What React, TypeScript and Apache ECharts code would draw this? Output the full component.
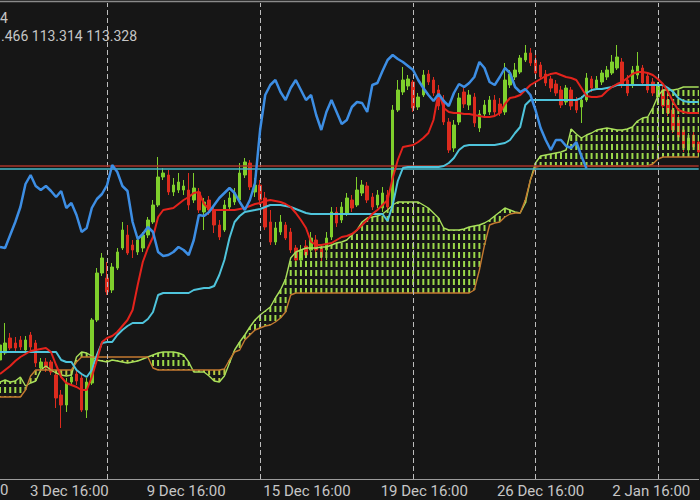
import React, { useEffect, useRef } from 'react';
import * as echarts from 'echarts';

// [open, close, low, high]
const candles: number[][] = [
  [111.40, 111.55, 111.37, 111.60], [111.47, 111.57, 111.45, 111.77], [111.62, 111.52, 111.50, 111.67], [111.57, 111.52, 111.47, 111.63],
  [111.60, 111.53, 111.50, 111.64], [111.50, 111.60, 111.48, 111.64], [111.65, 111.53, 111.50, 111.68], [111.57, 111.37, 111.33, 111.60],
  [111.32, 111.38, 111.28, 111.42], [111.38, 111.32, 111.28, 111.42], [111.38, 111.28, 111.25, 111.40], [111.25, 111.02, 110.92, 111.28],
  [111.05, 110.95, 110.72, 111.10], [110.95, 111.17, 110.88, 111.22], [111.18, 111.23, 111.15, 111.28], [111.26, 111.19, 111.15, 111.30],
  [111.22, 110.90, 110.88, 111.25], [110.90, 111.18, 110.82, 111.22], [111.17, 111.80, 111.15, 111.82], [111.80, 112.27, 111.78, 112.32],
  [112.27, 112.42, 112.24, 112.47], [112.22, 112.08, 112.05, 112.38], [112.10, 112.33, 112.07, 112.37], [112.32, 112.48, 112.30, 112.52],
  [112.52, 112.70, 112.50, 112.78], [112.65, 112.47, 112.45, 112.75], [112.55, 112.50, 112.42, 112.60], [112.48, 112.60, 112.45, 112.64],
  [112.52, 112.65, 112.48, 112.68], [112.65, 112.80, 112.62, 112.83], [112.78, 112.95, 112.76, 113.00], [112.95, 113.23, 112.93, 113.43],
  [113.23, 113.27, 113.20, 113.32], [113.25, 113.08, 113.05, 113.30], [113.08, 113.15, 113.04, 113.22], [113.10, 113.18, 113.07, 113.27],
  [113.10, 113.14, 113.05, 113.20], [113.10, 112.95, 112.90, 113.27], [113.00, 113.12, 112.97, 113.27], [113.08, 112.90, 112.87, 113.12],
  [112.88, 112.98, 112.70, 113.02], [113.00, 112.90, 112.85, 113.04], [112.90, 112.75, 112.67, 112.94], [112.75, 112.63, 112.60, 112.80],
  [112.70, 112.95, 112.68, 113.00], [112.93, 113.02, 112.90, 113.08], [112.98, 113.07, 112.95, 113.12], [113.00, 113.27, 112.98, 113.37],
  [113.25, 113.38, 113.22, 113.42], [113.37, 113.13, 113.10, 113.40], [113.08, 113.15, 113.03, 113.22], [113.15, 113.00, 112.95, 113.20],
  [113.02, 112.73, 112.70, 113.08], [112.78, 112.58, 112.55, 112.90], [112.58, 112.72, 112.55, 112.78], [112.68, 112.78, 112.65, 112.85],
  [112.75, 112.62, 112.60, 112.78], [112.68, 112.50, 112.47, 112.72], [112.52, 112.40, 112.35, 112.55], [112.40, 112.50, 112.37, 112.55],
  [112.54, 112.45, 112.42, 112.60], [112.50, 112.62, 112.48, 112.68], [112.60, 112.50, 112.42, 112.65], [112.52, 112.43, 112.38, 112.56],
  [112.50, 112.62, 112.40, 112.68], [112.63, 112.88, 112.60, 112.93], [112.88, 112.77, 112.73, 112.93], [112.80, 112.93, 112.77, 112.98],
  [112.87, 113.02, 112.84, 113.07], [113.00, 112.92, 112.88, 113.05], [112.95, 113.10, 112.93, 113.23], [113.07, 113.15, 113.04, 113.20],
  [113.14, 113.00, 112.97, 113.18], [113.03, 112.93, 112.90, 113.07], [112.95, 113.05, 112.92, 113.10], [112.92, 113.07, 112.88, 113.13],
  [113.05, 112.93, 112.90, 113.10], [112.93, 113.90, 112.90, 113.95], [113.90, 114.10, 113.88, 114.20], [114.08, 114.20, 114.05, 114.33],
  [114.14, 114.21, 114.10, 114.25], [114.18, 113.92, 113.88, 114.20], [113.93, 114.03, 113.90, 114.07], [114.05, 114.25, 114.03, 114.30],
  [114.26, 114.18, 114.15, 114.30], [114.20, 114.07, 114.04, 114.23], [114.10, 113.94, 113.90, 114.15], [114.00, 113.78, 113.75, 114.05],
  [113.78, 113.50, 113.47, 113.82], [113.52, 113.75, 113.48, 113.80], [113.78, 114.02, 113.75, 114.07], [114.08, 113.96, 113.92, 114.12],
  [113.95, 114.05, 113.90, 114.10], [114.03, 113.77, 113.73, 114.07], [113.72, 113.86, 113.68, 113.90], [113.86, 113.95, 113.82, 114.00],
  [113.88, 114.00, 113.85, 114.04], [114.00, 113.88, 113.84, 114.05], [113.96, 113.87, 113.84, 114.02], [113.88, 114.20, 113.85, 114.37],
  [114.15, 114.26, 114.12, 114.30], [114.23, 114.30, 114.20, 114.37], [114.28, 114.42, 114.26, 114.45], [114.40, 114.47, 114.38, 114.55],
  [114.47, 114.37, 114.34, 114.52], [114.40, 114.27, 114.24, 114.45], [114.35, 114.23, 114.20, 114.38], [114.26, 114.17, 114.14, 114.30],
  [114.21, 114.12, 114.08, 114.24], [114.16, 114.07, 114.04, 114.20], [114.10, 113.95, 113.92, 114.14], [113.98, 114.12, 113.95, 114.15],
  [114.10, 113.94, 113.90, 114.13], [114.00, 113.90, 113.87, 114.03], [113.93, 114.00, 113.77, 114.04], [114.00, 114.22, 113.98, 114.27],
  [114.21, 114.12, 114.08, 114.24], [114.12, 114.20, 114.10, 114.24], [114.18, 114.27, 114.15, 114.30], [114.23, 114.30, 114.20, 114.34],
  [114.27, 114.38, 114.25, 114.45], [114.32, 114.43, 114.30, 114.55], [114.38, 114.15, 114.12, 114.42], [114.20, 114.07, 114.04, 114.25],
  [114.15, 114.30, 114.12, 114.34], [114.25, 114.34, 114.21, 114.48], [114.32, 114.17, 114.14, 114.35], [114.24, 114.10, 114.07, 114.28],
  [114.18, 114.07, 114.04, 114.22], [114.03, 114.14, 114.00, 114.18], [114.10, 113.94, 113.90, 114.14], [114.00, 113.87, 113.84, 114.07],
  [113.90, 113.70, 113.67, 113.95], [113.80, 113.63, 113.60, 113.85], [113.70, 113.52, 113.48, 113.74], [113.50, 113.62, 113.47, 113.67],
  [113.65, 113.53, 113.50, 113.70], [113.58, 113.48, 113.45, 113.62],
];

const tenkan = [
  111.26, 111.30, 111.34, 111.39, 111.43, 111.46, 111.49, 111.50, 111.51, 111.52,
  111.48, 111.35, 111.23, 111.17, 111.15, 111.13, 111.10, 111.10, 111.23, 111.40,
  111.58, 111.62, 111.64, 111.68, 111.74, 111.80, 111.90, 112.15, 112.38, 112.52,
  112.63, 112.83, 112.90, 112.91, 112.92, 112.96, 113.00, 113.03, 113.07, 113.08,
  112.96, 112.91, 112.90, 112.90, 112.90, 112.90, 112.90, 112.91, 112.92, 112.94,
  112.96, 112.97, 112.99, 113.00, 112.99, 112.98, 112.96, 112.93, 112.87, 112.80,
  112.72, 112.58, 112.55, 112.55, 112.56, 112.57, 112.60, 112.63, 112.64, 112.66,
  112.70, 112.75, 112.80, 112.86, 112.90, 112.95, 113.00, 113.22, 113.40, 113.53,
  113.54, 113.55, 113.58, 113.62, 113.67, 113.80, 114.08, 113.92, 113.88, 113.87,
  113.87, 113.86, 113.86, 113.85, 113.84, 113.83, 113.83, 113.84, 113.87, 113.96,
  114.02, 114.03, 114.05, 114.10, 114.15, 114.18, 114.21, 114.24, 114.26, 114.27,
  114.25, 114.23, 114.22, 114.20, 114.12, 114.04, 114.03, 114.03, 114.04, 114.09,
  114.13, 114.16, 114.18, 114.22, 114.26, 114.28, 114.28, 114.27, 114.25, 114.21,
  114.16, 114.08, 113.98, 113.90, 113.88, 113.87, 113.87, 113.87,
];

const kijun = [
  111.48, 111.48, 111.48, 111.48, 111.48, 111.48, 111.48, 111.48, 111.48, 111.48,
  111.48, 111.48, 111.40, 111.38, 111.38, 111.30, 111.26, 111.23, 111.30, 111.45,
  111.57, 111.58, 111.58, 111.65, 111.70, 111.74, 111.77, 111.77, 111.77, 111.81,
  111.88, 112.05, 112.07, 112.07, 112.07, 112.07, 112.07, 112.07, 112.10, 112.11,
  112.12, 112.12, 112.14, 112.25, 112.40, 112.62, 112.78, 112.84, 112.88, 112.89,
  112.90, 112.91, 112.93, 112.95, 112.95, 112.95, 112.94, 112.93, 112.91, 112.89,
  112.87, 112.86, 112.86, 112.86, 112.86, 112.86, 112.86, 112.86, 112.86, 112.86,
  112.86, 112.86, 112.86, 112.86, 112.86, 112.86, 112.79, 112.95, 113.19, 113.32,
  113.33, 113.33, 113.33, 113.33, 113.33, 113.33, 113.33, 113.34, 113.37, 113.42,
  113.50, 113.54, 113.55, 113.55, 113.55, 113.55, 113.55, 113.55, 113.56, 113.57,
  113.60, 113.67, 113.73, 113.95, 114.00, 114.00, 114.00, 114.00, 114.00, 114.00,
  114.00, 114.00, 114.00, 114.00, 114.02, 114.07, 114.10, 114.11, 114.11, 114.12,
  114.13, 114.15, 114.15, 114.15, 114.15, 114.15, 114.15, 114.15, 114.15, 114.15,
  114.15, 114.12, 114.08, 114.02, 113.99, 113.98, 113.98, 113.98,
];

const chikou = [
  112.53, 112.52, 112.65, 112.78, 112.93, 113.16, 113.25, 113.14, 113.10, 113.14,
  113.09, 113.03, 113.09, 112.92, 112.97, 112.85, 112.68, 112.72, 112.92, 113.01,
  113.06, 113.15, 113.35, 113.28, 113.14, 113.09, 112.78, 112.61, 112.66, 112.73,
  112.68, 112.48, 112.44, 112.45, 112.48, 112.53, 112.50, 112.45, 112.60, 112.85,
  112.84, 112.88, 112.95, 113.02, 113.07, 113.12, 113.07, 112.98, 112.90, 113.00,
  113.17, 113.70, 114.05, 114.15, 114.20, 114.08, 114.00, 114.12, 114.20, 114.10,
  114.00, 114.05, 113.85, 113.70, 113.88, 114.00, 113.88, 113.76, 113.80, 113.93,
  113.98, 113.97, 113.88, 114.15, 114.17, 114.29, 114.40, 114.45, 114.41, 114.38,
  114.34, 114.30, 114.20, 114.12, 114.05, 113.99, 114.06, 113.99, 113.94, 114.07,
  114.16, 114.13, 114.17, 114.23, 114.38, 114.32, 114.18, 114.15, 114.23, 114.32,
  114.27, 114.13, 114.08, 114.11, 114.05, 113.90, 113.72, 113.60, 113.50, 113.60,
  113.60, 113.54, 113.52, 113.58, 113.44, 113.314,
];

const spanA = [
  111.18, 111.20, 111.18, 111.19, 111.23, 111.14, 111.17, 111.19, 111.30, 111.34,
  111.30, 111.27, 111.25, 111.24, 111.25, 111.43, 111.48, 111.47, 111.44, 111.40,
  111.39, 111.38, 111.40, 111.39, 111.38, 111.37, 111.38, 111.39, 111.41, 111.43,
  111.45, 111.47, 111.48, 111.48, 111.48, 111.47, 111.45, 111.38, 111.28, 111.28,
  111.28, 111.24, 111.19, 111.18, 111.24, 111.37, 111.50, 111.58, 111.65, 111.73,
  111.80, 111.85, 111.89, 111.93, 112.02, 112.10, 112.21, 112.42, 112.48, 112.50,
  112.52, 112.52, 112.52, 112.53, 112.53, 112.55, 112.57, 112.58, 112.60, 112.65,
  112.70, 112.78, 112.82, 112.83, 112.84, 112.86, 112.90, 112.95, 112.98, 112.98,
  112.98, 112.98, 112.98, 112.95, 112.92, 112.87, 112.82, 112.72, 112.70, 112.70,
  112.70, 112.71, 112.73, 112.74, 112.75, 112.77, 112.80, 112.84, 112.88, 112.92,
  112.90, 112.88, 112.87, 112.97, 113.20, 113.37, 113.44, 113.45, 113.46, 113.47,
  113.48, 113.50, 113.71, 113.66, 113.62, 113.65, 113.67, 113.70, 113.71, 113.72,
  113.71, 113.70, 113.70, 113.71, 113.73, 113.79, 113.82, 113.83, 113.92, 114.04,
  114.10, 114.10, 114.10, 114.11, 114.13, 114.13, 114.13, 114.13,
];

const spanB = [
  111.03, 111.03, 111.03, 111.03, 111.03, 111.10, 111.24, 111.30, 111.30, 111.30,
  111.30, 111.30, 111.30, 111.30, 111.30, 111.38, 111.43, 111.43, 111.43, 111.43,
  111.43, 111.43, 111.43, 111.43, 111.43, 111.43, 111.43, 111.43, 111.43, 111.43,
  111.32, 111.30, 111.30, 111.30, 111.30, 111.30, 111.30, 111.30, 111.30, 111.30,
  111.30, 111.30, 111.30, 111.30, 111.31, 111.40, 111.48, 111.50, 111.60, 111.65,
  111.70, 111.72, 111.74, 111.75, 111.78, 111.82, 111.88, 112.05, 112.07, 112.07,
  112.07, 112.07, 112.07, 112.07, 112.07, 112.07, 112.07, 112.07, 112.07, 112.07,
  112.07, 112.07, 112.07, 112.07, 112.07, 112.07, 112.07, 112.07, 112.07, 112.07,
  112.07, 112.07, 112.07, 112.07, 112.07, 112.07, 112.07, 112.07, 112.07, 112.07,
  112.07, 112.07, 112.07, 112.10, 112.30, 112.55, 112.75, 112.77, 112.78, 112.83,
  112.86, 112.87, 112.87, 113.00, 113.20, 113.33, 113.34, 113.34, 113.34, 113.34,
  113.34, 113.34, 113.34, 113.34, 113.34, 113.34, 113.34, 113.34, 113.34, 113.34,
  113.34, 113.34, 113.34, 113.34, 113.34, 113.34, 113.34, 113.34, 113.36, 113.41,
  113.43, 113.43, 113.43, 113.43, 113.43, 113.43, 113.43, 113.43,
];

const bidPrice = 113.314;
const askPrice = 113.345;
const weekStarts = [21, 51, 81, 105, 129];
const tickPositions = [13.6, 36.5, 60.2, 83.2, 106.0, 127.7];
const tickLabels = ['3 Dec 16:00', '9 Dec 16:00', '15 Dec 16:00', '19 Dec 16:00', '26 Dec 16:00', '2 Jan 16:00'];
const edgeLabelTail = '0';
const headerSymbolTail = '4';
const headerValues = '.466 113.314 113.328';

export default function App() {
  const ref = useRef<HTMLDivElement>(null);
  useEffect(() => {
    const chart = echarts.init(ref.current!, null, { renderer: 'svg' });
    const categories = candles.map((_, i) => String(i));
    const cloud = spanA.map((a, i) => [i, a, spanB[i]]);
    const lastIndex = candles.length - 1;
    chart.setOption({
      animation: false,
      backgroundColor: '#161616',
      grid: { left: 0, right: 700 - lastIndex * 5.1, top: 3, bottom: 21 },
      xAxis: [
        {
          type: 'category', data: categories, boundaryGap: false,
          axisLine: { show: true, lineStyle: { color: '#9c9c9c', width: 1 } },
          axisTick: { show: false }, axisLabel: { show: false }, splitLine: { show: false },
        },
        {
          type: 'value', min: 0, max: lastIndex, position: 'bottom',
          axisLine: { show: false }, axisTick: { show: false }, splitLine: { show: false },
          axisLabel: {
            customValues: tickPositions,
            formatter: (v: number) => { const k = tickPositions.indexOf(v); return k >= 0 ? tickLabels[k] : ''; },
            color: '#c6c6c6', fontSize: 15, fontFamily: 'Roboto', margin: 4,
          },
        },
      ],
      yAxis: { type: 'value', min: 110.21, max: 114.97, show: false },
      graphic: [
        { type: 'line', shape: { x1: 0, y1: 1.5, x2: 700, y2: 1.5 }, style: { stroke: '#8a8a8a', lineWidth: 1.5 }, z: 10 },
        { type: 'text', x: 0, y: 18, style: { text: headerSymbolTail, fill: '#c6c6c6', font: '14px Roboto', textAlign: 'left', textVerticalAlign: 'middle' }, z: 10 },
        { type: 'text', x: 1, y: 36, style: { text: headerValues, fill: '#c6c6c6', font: '14px Roboto', textAlign: 'left', textVerticalAlign: 'middle' }, z: 10 },
        { type: 'text', x: 0, y: 490, style: { text: edgeLabelTail, fill: '#c6c6c6', font: '15px Roboto', textAlign: 'left', textVerticalAlign: 'middle' }, z: 10 },
      ],
      series: [
        {
          type: 'line', data: [], z: 1, silent: true,
          markLine: {
            silent: true, symbol: 'none', label: { show: false },
            lineStyle: { color: '#bdbdbd', type: [5, 3], width: 1 },
            data: weekStarts.map((i) => ({ xAxis: i })),
          },
        },
        {
          type: 'candlestick', data: candles, barWidth: 3, z: 2,
          itemStyle: { color: '#7fcf2c', color0: '#dc2b1e', borderColor: '#7fcf2c', borderColor0: '#dc2b1e', borderWidth: 1 },
        },
        {
          type: 'custom', data: cloud, z: 3, encode: { x: 0, y: [1, 2] }, clip: true,
          renderItem: (params: any, api: any) => {
            const i = api.value(0);
            const p1 = api.coord([i, api.value(1)]);
            const p2 = api.coord([i, api.value(2)]);
            const top = Math.min(p1[1], p2[1]);
            const bottom = Math.max(p1[1], p2[1]);
            return {
              type: 'line',
              shape: { x1: p1[0], y1: top, x2: p1[0], y2: bottom },
              style: {
                stroke: api.value(1) >= api.value(2) ? '#9bd84a' : '#b8c840',
                lineWidth: 2, lineDash: [6, 3], lineDashOffset: top % 9,
              },
            };
          },
        },
        { type: 'line', data: spanA, symbol: 'none', z: 4, lineStyle: { color: '#a9e05c', width: 1.4 } },
        { type: 'line', data: spanB, symbol: 'none', z: 4, lineStyle: { color: '#c47a30', width: 1.4 } },
        {
          type: 'line', data: [], z: 4, silent: true,
          markLine: {
            silent: true, symbol: 'none', label: { show: false },
            data: [
              { yAxis: askPrice, lineStyle: { color: '#a8342a', type: 'solid', width: 1.5 } },
              { yAxis: bidPrice, lineStyle: { color: '#45b9c9', type: 'solid', width: 1.5 } },
            ],
          },
        },
        { type: 'line', data: kijun, symbol: 'none', z: 5, lineStyle: { color: '#4fc4dc', width: 2 } },
        { type: 'line', data: tenkan, symbol: 'none', z: 5, lineStyle: { color: '#e4231c', width: 2 } },
        { type: 'line', data: chikou, symbol: 'none', z: 5, lineStyle: { color: '#3d8ee4', width: 2.5 } },
      ],
    });
    return () => chart.dispose();
  }, []);
  return <div ref={ref} style={{ position: 'fixed', left: 0, top: 0, width: 700, height: 500 }} />;
}
